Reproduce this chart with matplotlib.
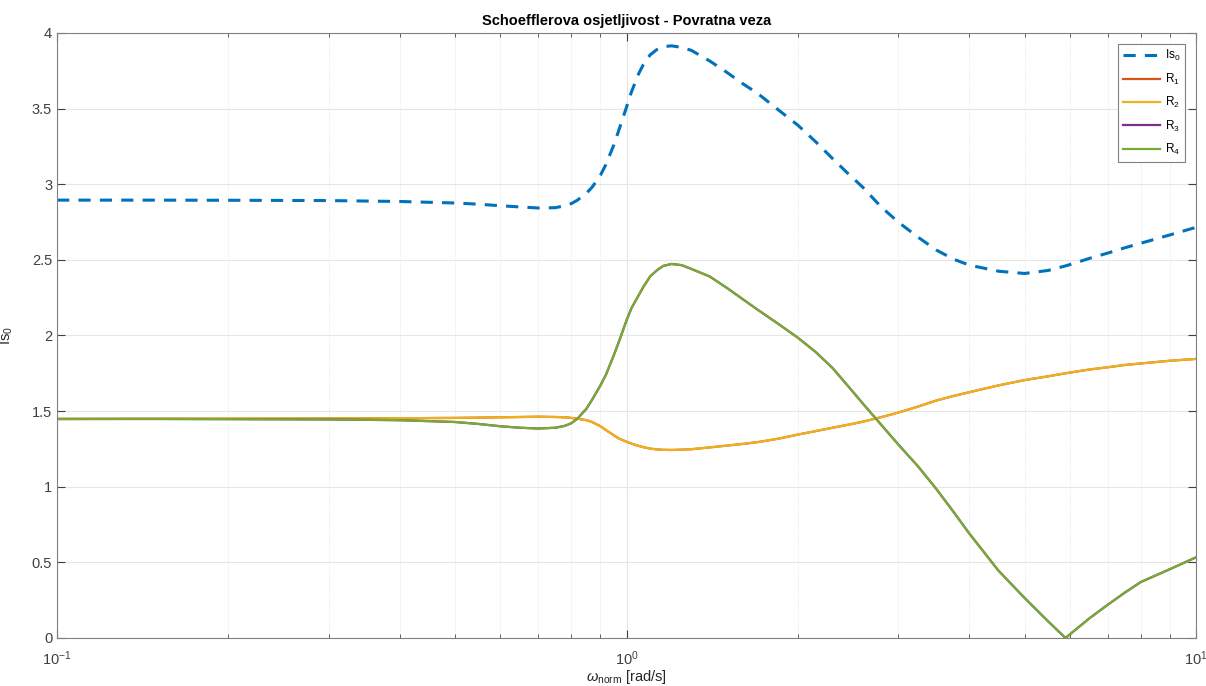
import matplotlib
matplotlib.use('Agg')
import matplotlib.pyplot as plt
from matplotlib.ticker import FuncFormatter, LogLocator, MultipleLocator

# očitane vrijednosti sa slike
omega = [0.1, 0.15, 0.2, 0.3, 0.4, 0.5, 0.55, 0.6, 0.65, 0.7, 0.75, 0.78, 0.8,
         0.82, 0.85, 0.87, 0.9, 0.92, 0.95, 0.97, 1.0, 1.02, 1.05, 1.07, 1.1,
         1.13, 1.16, 1.2, 1.25, 1.3, 1.4, 1.5, 1.6, 1.7, 1.85, 2.0, 2.15, 2.3,
         2.45, 2.6, 2.8, 3.0, 3.25, 3.5, 3.75, 4.0, 4.5, 5.0, 5.5, 5.9, 6.2,
         6.5, 7.0, 7.5, 8.0, 9.0, 10.0]

Is0 = [2.895, 2.895, 2.894, 2.892, 2.886, 2.876, 2.868, 2.858, 2.850, 2.843,
       2.845, 2.858, 2.872, 2.895, 2.94, 2.98, 3.06, 3.13, 3.26, 3.36, 3.51,
       3.61, 3.73, 3.79, 3.855, 3.89, 3.91, 3.915, 3.905, 3.885, 3.815, 3.74,
       3.665, 3.60, 3.49, 3.39, 3.28, 3.17, 3.07, 2.98, 2.85, 2.75, 2.65,
       2.565, 2.505, 2.465, 2.425, 2.41, 2.43, 2.46, 2.485, 2.51, 2.545, 2.58,
       2.61, 2.665, 2.715]

R2 = [1.448, 1.449, 1.450, 1.451, 1.453, 1.455, 1.457, 1.459, 1.461, 1.463,
      1.461, 1.459, 1.455, 1.45, 1.44, 1.428, 1.40, 1.375, 1.34, 1.318, 1.298,
      1.285, 1.27, 1.262, 1.252, 1.247, 1.244, 1.243, 1.245, 1.248, 1.26,
      1.272, 1.283, 1.295, 1.318, 1.345, 1.368, 1.39, 1.41, 1.43, 1.46, 1.49,
      1.53, 1.57, 1.60, 1.625, 1.67, 1.705, 1.73, 1.75, 1.763, 1.775, 1.79,
      1.805, 1.815, 1.833, 1.845]

R4 = [1.448, 1.448, 1.447, 1.445, 1.44, 1.428, 1.415, 1.40, 1.39, 1.385,
      1.39, 1.403, 1.42, 1.45, 1.515, 1.575, 1.67, 1.74, 1.87, 1.96, 2.10,
      2.18, 2.265, 2.32, 2.39, 2.43, 2.46, 2.473, 2.465, 2.44, 2.39, 2.315,
      2.24, 2.17, 2.075, 1.985, 1.89, 1.785, 1.665, 1.55, 1.41, 1.28, 1.135,
      0.985, 0.835, 0.69, 0.445, 0.265, 0.11, 0.0, 0.067, 0.13, 0.22, 0.30,
      0.37, 0.455, 0.533]

# R1 i R3 se preklapaju s R2 i R4
R1 = R2
R3 = R4

plt.rcParams['font.family'] = ['Liberation Sans', 'DejaVu Sans']
plt.rcParams['mathtext.fontset'] = 'custom'
plt.rcParams['mathtext.rm'] = 'Liberation Sans'
plt.rcParams['mathtext.it'] = 'Liberation Sans:italic'

fig = plt.figure(figsize=(12.06, 6.86), dpi=100)
ax = fig.add_axes([0.0473, 0.07, 0.9444, 0.8819])

ax.plot(omega, Is0, '--', color='#0072BD', lw=2.2, dashes=(4, 3), label='Is$_0$')
ax.plot(omega, R1, color='#D95319', lw=1.6, label='R$_1$')
ax.plot(omega, R2, color='#EDB120', lw=1.6, label='R$_2$')
ax.plot(omega, R3, color='#7E2F8E', lw=1.6, label='R$_3$')
ax.plot(omega, R4, color='#77AC30', lw=1.6, label='R$_4$')

ax.set_xscale('log')
ax.set_xlim(0.1, 10)
ax.set_ylim(0, 4)
ax.yaxis.set_major_locator(MultipleLocator(0.5))
ax.yaxis.set_major_formatter(FuncFormatter(lambda v, p: '%g' % v))
ax.xaxis.set_minor_locator(LogLocator(base=10, subs=range(2, 10)))

ax.grid(True, which='major', color='#e6e6e6', lw=0.8)
ax.grid(True, which='minor', axis='x', color='#e0e0e0', lw=0.6, ls=':')
ax.set_axisbelow(True)

for s in ax.spines.values():
    s.set_color('#808080')
ax.tick_params(which='both', direction='in', top=True, right=True,
               colors='#404040', labelsize=10.5)
ax.tick_params(which='major', length=6)
ax.tick_params(which='minor', length=3)
ax.tick_params(axis='x', pad=8)

ax.set_title('Schoefflerova osjetljivost - Povratna veza', fontsize=10.5,
             fontweight='bold', pad=6)
ax.set_xlabel(r'$\omega_{\mathrm{norm}}$ [rad/s]', fontsize=10.5, color='#262626',
              labelpad=0)
ax.set_ylabel('Is$_0$', fontsize=10.5, color='#262626', labelpad=12)

leg = ax.legend(loc='upper right', fontsize=8.5, handlelength=3.2,
                fancybox=False, framealpha=1, borderaxespad=0.9,
                labelspacing=0.7, handletextpad=0.4)
leg.get_frame().set_edgecolor('#808080')
leg.get_frame().set_linewidth(0.8)

plt.savefig('out.png', dpi=100)
